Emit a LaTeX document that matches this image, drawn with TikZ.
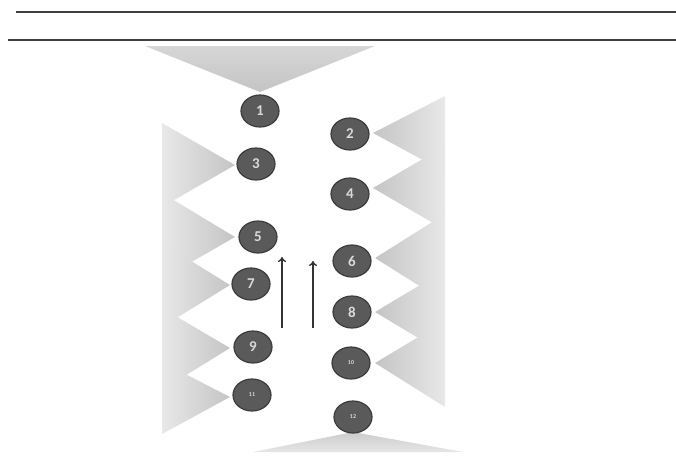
\documentclass[tikz,border=0pt]{standalone}
\usepackage{fontspec}
\setmainfont{Carlito}
\usetikzlibrary{shapes.geometric,arrows.meta}
\definecolor{ballfill}{HTML}{5A5A5A}
\definecolor{balledge}{HTML}{3C3C3C}
\definecolor{rulecol}{HTML}{404040}
\tikzset{
  ball/.style={ellipse, minimum width=38pt, minimum height=32pt, inner sep=0pt,
    fill=ballfill, draw=balledge, line width=1.2pt, text=white!85!black,
    font=\fontsize{15}{15}\selectfont\bfseries},
  smallball/.style={ball, font=\fontsize{6}{6}\selectfont\bfseries},
  lefttri/.style={left color=black!9, right color=black!23},
  righttri/.style={left color=black!23, right color=black!9},
  toptri/.style={top color=black!16, bottom color=black!23},
  bottri/.style={top color=black!20, bottom color=black!10},
  hrule/.style={draw=rulecol, line width=1.6pt},
  uparrow/.style={draw=black!80, line width=1.4pt, -{To[length=5pt,width=8pt]}}
}
\begin{document}
\begin{tikzpicture}[x=1pt,y=-1pt]
\useasboundingbox (0,0) rectangle (676,456);
% rules
\draw[hrule] (16,12) -- (676,12);
\draw[hrule] (8,40) -- (676,40);
% top and bottom triangles
\shade[toptri] (145,46) -- (375,46) -- (260,92) -- cycle;
\shade[bottri] (253,452) -- (463,452) -- (353,432) -- cycle;
% left triangles
\shade[lefttri] (162,123) -- (235,165) -- (162,207) -- cycle;
\shade[lefttri] (162,193) -- (235,237) -- (162,279) -- cycle;
\shade[lefttri] (162,243) -- (230,285) -- (162,327) -- cycle;
\shade[lefttri] (162,308) -- (230,348) -- (162,390) -- cycle;
\shade[lefttri] (162,362) -- (230,397) -- (162,434) -- cycle;
% right triangles
\shade[righttri] (445,96) -- (373,133) -- (445,172) -- cycle;
\shade[righttri] (445,146) -- (373,188) -- (445,230) -- cycle;
\shade[righttri] (445,214) -- (375,258) -- (445,302) -- cycle;
\shade[righttri] (445,270) -- (375,312) -- (445,354) -- cycle;
\shade[righttri] (445,321) -- (375,363) -- (445,407) -- cycle;
% balls
\node[ball] (n1) at (260,111) {1};
\node[ball] (n2) at (350,134) {2};
\node[ball] (n3) at (256,164) {3};
\node[ball] (n4) at (350,194) {4};
\node[ball] (n5) at (258,237) {5};
\node[ball] (n6) at (352,261) {6};
\node[ball] (n7) at (251,284) {7};
\node[ball] (n8) at (352,312) {8};
\node[ball] (n9) at (253,347) {9};
\node[smallball] (n10) at (351,363) {10};
\node[smallball] (n11) at (252,395) {11};
\node[smallball] (n12) at (353,417) {12};
% arrows
\coordinate (a1s) at (282,328);
\coordinate (a1e) at (282,257);
\coordinate (a2s) at (313,328);
\coordinate (a2e) at (313,261);
\draw[uparrow] (a1s) -- (a1e);
\draw[uparrow] (a2s) -- (a2e);
\end{tikzpicture}
\end{document}
